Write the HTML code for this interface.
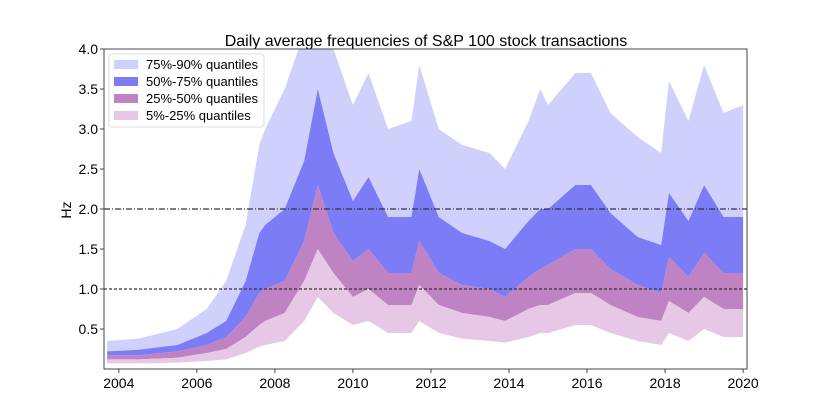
<!DOCTYPE html>
<html><head><meta charset="utf-8"><style>
body{margin:0;background:#fff;}
svg{display:block;font-family:"Liberation Sans","DejaVu Sans",sans-serif;}
</style></head><body>
<svg id="chart" width="830" height="415">
<defs><clipPath id="plotclip"><rect x="104" y="49" width="643" height="320"/></clipPath></defs>
<text x="426" y="46" text-anchor="middle" font-size="16">Daily average frequencies of S&amp;P 100 stock transactions</text>
<text transform="translate(71,210) rotate(-90)" text-anchor="middle" font-size="14">Hz</text>
<g id="bands" clip-path="url(#plotclip)"></g>
<g id="refs"></g>
<g id="axes"></g>
<g id="legend"></g>
</svg>
<script>
const dates = [2003.7,2004.5,2005.5,2006.25,2006.75,2007.25,2007.6,2007.75,2008.25,2008.75,2009.1,2009.5,2010.0,2010.4,2010.9,2011.5,2011.7,2012.2,2012.8,2013.5,2013.9,2014.5,2014.8,2015.0,2015.7,2016.1,2016.6,2017.3,2017.9,2018.1,2018.6,2019.0,2019.5,2020.0];
const q05 = [0.07,0.07,0.08,0.10,0.12,0.20,0.28,0.30,0.35,0.60,0.90,0.70,0.55,0.60,0.45,0.45,0.60,0.45,0.38,0.35,0.33,0.40,0.45,0.45,0.55,0.55,0.45,0.35,0.30,0.45,0.35,0.50,0.40,0.40];
const q25 = [0.12,0.12,0.14,0.20,0.25,0.40,0.55,0.60,0.70,1.10,1.50,1.20,0.90,1.00,0.80,0.80,1.05,0.80,0.70,0.65,0.60,0.75,0.80,0.80,0.95,0.95,0.80,0.65,0.60,0.85,0.70,0.90,0.75,0.75];
const q50 = [0.17,0.17,0.22,0.30,0.40,0.65,0.95,1.00,1.10,1.60,2.30,1.70,1.35,1.50,1.20,1.20,1.60,1.20,1.05,1.00,0.90,1.15,1.25,1.30,1.50,1.50,1.25,1.05,0.95,1.40,1.15,1.45,1.20,1.20];
const q75 = [0.22,0.24,0.30,0.45,0.60,1.10,1.70,1.80,2.00,2.60,3.50,2.70,2.10,2.40,1.90,1.90,2.50,1.90,1.70,1.60,1.50,1.85,2.00,2.00,2.30,2.30,1.95,1.65,1.55,2.20,1.85,2.30,1.90,1.90];
const q90 = [0.35,0.38,0.50,0.75,1.10,1.80,2.80,3.00,3.50,4.20,4.50,4.00,3.30,3.70,3.00,3.10,3.80,3.00,2.80,2.70,2.50,3.10,3.50,3.30,3.70,3.70,3.20,2.90,2.70,3.60,3.10,3.80,3.20,3.30];
const yTicks = [0.5,1.0,1.5,2.0,2.5,3.0,3.5,4.0];
const xTicks = [2004,2006,2008,2010,2012,2014,2016,2018,2020];
const refValues = [2.0,1.0];
const bandLabels = ["75%-90% quantiles","50%-75% quantiles","25%-50% quantiles","5%-25% quantiles"];

const NS="http://www.w3.org/2000/svg";
const X0=104,X1=747,Y0=369,Y1=49;
const xMin=2003.62,xMax=2020.1,yMin=0.0,yMax=4.0;
function xs(v){return X0+(v-xMin)/(xMax-xMin)*(X1-X0);}
function ys(v){return Y0-(v-yMin)/(yMax-yMin)*(Y0-Y1);}
function mk(tag,attrs,parent){const e=document.createElementNS(NS,tag);for(const k in attrs)e.setAttribute(k,attrs[k]);parent.appendChild(e);return e;}

const bands=document.getElementById('bands');
const bandDefs=[[q75,q90,"#d0d0fc","band-75-90"],[q50,q75,"#7c7cf6","band-50-75"],[q25,q50,"#bf82c2","band-25-50"],[q05,q25,"#e6c8e6","band-5-25"]];
bandDefs.forEach(b=>{
  let pts=[];
  dates.forEach((d,i)=>pts.push(xs(d)+","+ys(b[1][i])));
  for(let i=dates.length-1;i>=0;i--)pts.push(xs(dates[i])+","+ys(b[0][i]));
  const p=mk('polygon',{points:pts.join(" "),fill:b[2]},bands);
  
  
});

const refs=document.getElementById('refs');
refValues.forEach((v,i)=>{
  const l=mk('line',{x1:X0,x2:X1,y1:ys(v),y2:ys(v),stroke:"#333","stroke-width":1.2,"stroke-dasharray":i===0?"6,2,1,2":"3,2"},refs);
  
  
});

const axes=document.getElementById('axes');
const frame=mk('rect',{x:X0,y:Y1,width:X1-X0,height:Y0-Y1,fill:"none",stroke:"#444","stroke-width":1},axes);


yTicks.forEach(v=>{
  const y=ys(v);
  mk('line',{x1:X0-4,x2:X0,y1:y,y2:y,stroke:"#444"},axes);
  const t=mk('text',{x:X0-6,y:y+5,"text-anchor":"end","font-size":14},axes);
  t.textContent=v.toFixed(1);
  
  
});
xTicks.forEach(v=>{
  const x=xs(v);
  mk('line',{x1:x,x2:x,y1:Y0,y2:Y0+4,stroke:"#444"},axes);
  const t=mk('text',{x:x,y:Y0+19,"text-anchor":"middle","font-size":14},axes);
  t.textContent=v;
  
  
});

const legend=document.getElementById('legend');
const box=mk('rect',{x:109,y:54,width:155,height:73,fill:"#fff","fill-opacity":0.85,stroke:"#ddd",rx:3},legend);


const legColors=["#d0d0fc","#7c7cf6","#bf82c2","#e6c8e6"];
bandLabels.forEach((lab,i)=>{
  const y=60+i*17;
  const sw=mk('rect',{x:114,y:y,width:24,height:9,fill:legColors[i]},legend);
  
  
  const t=mk('text',{x:146,y:y+9,"font-size":13},legend);
  t.textContent=lab;
  
  
});
</script>
</body></html>
